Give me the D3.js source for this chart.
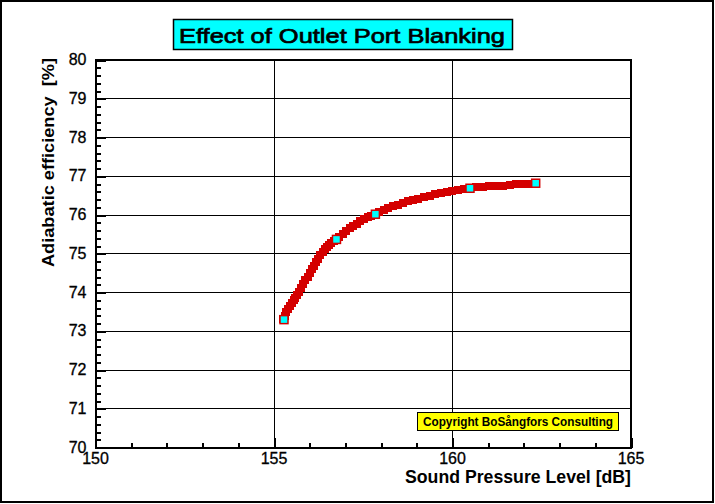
<!DOCTYPE html>
<html><head><meta charset="utf-8">
<script src="https://cdn.jsdelivr.net/npm/d3@7/dist/d3.min.js"></script>
<style>body{margin:0;background:#fff}svg{display:block}text{font-family:"Liberation Sans",Arial,sans-serif}</style>
</head><body><svg id="c" width="715" height="504"></svg>
<script>
const title = "Effect of Outlet Port Blanking";
const xTitle = "Sound Pressure Level [dB]";
const yTitle = "Adiabatic efficiency\u00a0\u00a0[%]";
const copyright = "Copyright BoSångfors Consulting";
const xTicks = [150, 155, 160, 165];
const yTicks = [70, 71, 72, 73, 74, 75, 76, 77, 78, 79, 80];
// dense measured series (red squares)
const splX = [155.26,155.30,155.35,155.40,155.45,155.50,155.55,155.60,155.65,155.70,155.76,155.82,155.88,155.94,156.00,156.06,156.12,156.18,156.24,156.30,156.36,156.42,156.48,156.54,156.60,156.67,156.74,156.82,156.92,157.02,157.12,157.22,157.32,157.42,157.52,157.62,157.72,157.83,157.95,158.07,158.20,158.33,158.46,158.60,158.74,158.89,159.04,159.20,159.36,159.52,159.68,159.84,159.99,160.15,160.32,160.49,160.67,160.85,161.03,161.22,161.41,161.60,161.79,161.97,162.15,162.33];
const effY = [73.31,73.40,73.49,73.57,73.65,73.73,73.80,73.87,73.94,74.01,74.11,74.21,74.31,74.41,74.50,74.60,74.69,74.78,74.87,74.96,75.04,75.11,75.17,75.23,75.28,75.33,75.37,75.43,75.51,75.59,75.66,75.72,75.78,75.84,75.89,75.94,75.98,76.02,76.07,76.12,76.17,76.22,76.27,76.31,76.35,76.38,76.42,76.46,76.50,76.53,76.56,76.59,76.62,76.65,76.67,76.69,76.71,76.72,76.74,76.75,76.76,76.78,76.79,76.80,76.81,76.82];
// highlighted points (cyan squares)
const keyX = [155.28, 156.75, 157.84, 160.49, 162.33];
const keyY = [73.30, 75.37, 76.02, 76.69, 76.82];

const svg = d3.select("#c");
const x = d3.scaleLinear().domain([150,165]).range([95.5,631]);
const y = d3.scaleLinear().domain([70,80]).range([447.5,60]);

// outer border
svg.append("rect").attr("x",1).attr("y",1).attr("width",712).attr("height",501)
  .attr("fill","#fff").attr("stroke","#000").attr("stroke-width",2);

// gridlines
const g = svg.append("g").attr("shape-rendering","crispEdges");
g.selectAll(".hg").data(yTicks.slice(1,-1)).join("line")
  .attr("x1",x(150)).attr("x2",x(165)).attr("y1",d=>y(d)).attr("y2",d=>y(d))
  .attr("stroke","#000").attr("stroke-width",1);
g.selectAll(".vg").data(xTicks.slice(1,-1)).join("line")
  .attr("y1",y(70)).attr("y2",y(80)).attr("x1",d=>x(d)).attr("x2",d=>x(d))
  .attr("stroke","#000").attr("stroke-width",1);

// minor & major ticks (inward)
const yMinor = d3.range(70,80.001,0.2).filter(v=>Math.abs(v-Math.round(v))>1e-6);
const xMinor = d3.range(150,165.001,1).filter(v=>v%5!==0);
function styleAxis(sel){ sel.select(".domain").remove(); sel.selectAll("text").remove();
  sel.selectAll("line").attr("stroke","#000").attr("stroke-width",2); sel.attr("shape-rendering","crispEdges"); }
svg.append("g").attr("transform",`translate(${x(150)},0)`)
  .call(d3.axisLeft(y).tickValues(yMinor).tickSize(-5)).call(styleAxis);
svg.append("g").attr("transform",`translate(${x(150)},0)`)
  .call(d3.axisLeft(y).tickValues(yTicks).tickSize(-10)).call(styleAxis);
svg.append("g").attr("transform",`translate(0,${y(70)})`)
  .call(d3.axisBottom(x).tickValues(xMinor).tickSize(-5)).call(styleAxis);
svg.append("g").attr("transform",`translate(0,${y(70)})`)
  .call(d3.axisBottom(x).tickValues(xTicks).tickSize(-10)).call(styleAxis);

// frame
svg.append("rect").attr("x",x(150)).attr("y",y(80)).attr("width",x(165)-x(150)).attr("height",y(70)-y(80))
  .attr("fill","none").attr("stroke","#000").attr("stroke-width",2).attr("shape-rendering","crispEdges");

// tick labels
svg.selectAll(".xl").data(xTicks).join("text")
  .attr("x",d=>x(d)).attr("y",y(70)+16).attr("text-anchor","middle")
  .attr("font-size",16).attr("stroke","#000").attr("stroke-width",0.3).text(d=>d);
svg.selectAll(".yl").data(yTicks).join("text")
  .attr("x",x(150)-9).attr("y",d=>y(d)+5).attr("text-anchor","end")
  .attr("font-size",16).attr("stroke","#000").attr("stroke-width",0.3).text(d=>d);

// axis titles
svg.append("text").attr("x",x(165)).attr("y",483).attr("text-anchor","end")
  .attr("font-size",18).attr("font-weight","bold")
  .attr("textLength",226).attr("lengthAdjust","spacingAndGlyphs").text(xTitle);
svg.append("text").attr("transform",`translate(54,${y(80)-2}) rotate(-90)`).attr("text-anchor","end")
  .attr("font-size",16).attr("font-weight","bold")
  .attr("textLength",209).attr("lengthAdjust","spacingAndGlyphs").text(yTitle);

// title box
svg.append("rect").attr("x",173.5).attr("y",19.5).attr("width",339).attr("height",30)
  .attr("fill","#00ffff").attr("stroke","#000").attr("stroke-width",1.5);
svg.append("text").attr("x",179).attr("y",43).attr("font-size",21)
  .attr("stroke","#000").attr("stroke-width",0.7)
  .attr("textLength",326).attr("lengthAdjust","spacingAndGlyphs").text(title);

// copyright box
svg.append("rect").attr("x",417.5).attr("y",412.5).attr("width",201).attr("height",18)
  .attr("fill","#ffff00").attr("stroke","#000").attr("stroke-width",1);
svg.append("text").attr("x",423).attr("y",426).attr("font-size",12).attr("font-weight","bold")
  .attr("textLength",190).attr("lengthAdjust","spacingAndGlyphs").text(copyright);

// data markers
const pts = splX.map((v,i)=>({x:v,y:effY[i]}));
svg.append("g").selectAll("rect").data(pts).join("rect")
  .attr("x",d=>x(d.x)-4).attr("y",d=>y(d.y)-4).attr("width",8).attr("height",8)
  .attr("fill","#d40000").attr("shape-rendering","crispEdges");
const kp = keyX.map((v,i)=>({x:v,y:keyY[i]}));
svg.append("g").selectAll("rect").data(kp).join("rect")
  .attr("x",d=>x(d.x)-4).attr("y",d=>y(d.y)-4).attr("width",8).attr("height",8)
  .attr("fill","#00ffff").attr("stroke","#d40000").attr("stroke-width",1.5);
</script></body></html>
